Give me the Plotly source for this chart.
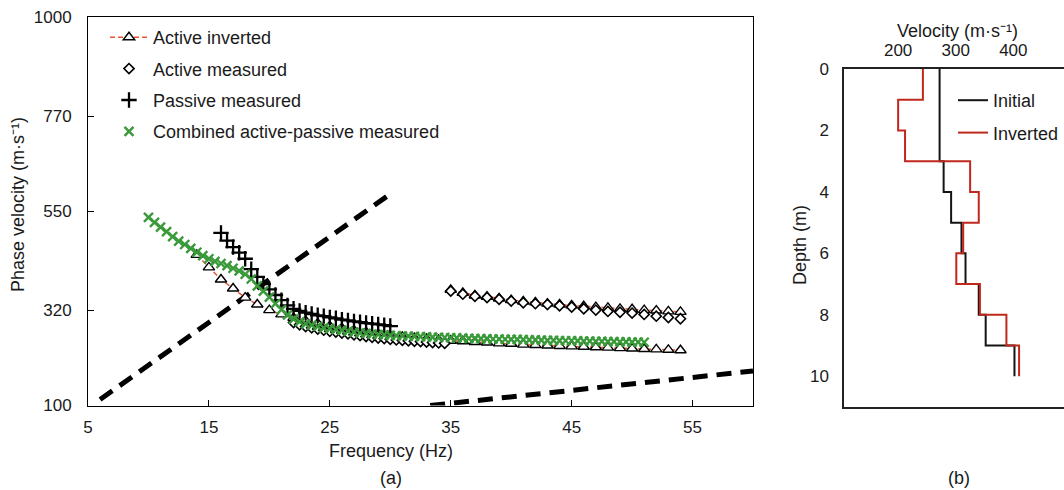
import plotly.graph_objects as go

W, H = 1064, 490
FONT = "Liberation Sans, Arial, sans-serif"
TXT = "#1a1a1a"

# ---------------- panel (a): dispersion curves ----------------
# Active inverted (fundamental mode, then higher mode, separated by None)
inv_freq = [14, 15, 16, 17, 18, 19, 20, 21, 22, 23, 24, 25, 26, 27, 28, 29, 30, 31, 32, 33,
            34, 35, 36, 37, 38, 39, 40, 41, 42, 43, 44, 45, 46, 47, 48, 49, 50, 51, 52, 53, 54,
            None,
            35, 36, 37, 38, 39, 40, 41, 42, 43, 44, 45, 46, 47, 48, 49, 50, 51, 52, 53, 54]
inv_vel = [449, 420, 392, 371, 350, 334, 321, 311, 303, 296, 290, 284, 279, 274, 270, 266, 262, 259, 256, 254,
           252, 250, 249, 247, 246, 244, 243, 241, 240, 239, 238, 237, 236, 235, 234, 233, 232, 231, 230, 229, 228,
           None,
           368, 361, 355, 352, 348, 344, 341, 339, 336, 334, 332, 330, 328, 326, 324, 323, 321, 320, 318, 317]

# Active measured
act_freq = [22, 22.5, 23, 23.5, 24, 24.5, 25, 25.5, 26, 26.5, 27, 27.5, 28, 28.5, 29, 29.5, 30, 30.5,
            31, 31.5, 32, 32.5, 33, 33.5, 34, 34.5,
            35, 36, 37, 38, 39, 40, 41, 42, 43, 44, 45, 46, 47, 48, 49, 50, 51, 52, 53, 54]
act_vel = [292, 287, 283, 280, 277, 274.5, 272, 270, 268, 266, 264, 262, 260, 258, 256.5, 255, 253.5, 252,
           251, 250, 249, 248, 247, 246, 245, 244,
           365, 358, 353, 350, 346, 342, 338, 336, 334, 331, 328, 324, 321, 318, 316, 314, 311, 307, 304, 301]

# Passive measured
pas_freq = [16, 16.5, 17, 17.5, 18, 18.5, 19, 19.5, 20, 20.5, 21, 21.5, 22, 22.5, 23, 23.5, 24, 24.5,
            25, 25.5, 26, 26.5, 27, 27.5, 28, 28.5, 29, 29.5, 30]
pas_vel = [500, 482, 467, 454, 440, 416, 398, 381, 369, 356, 344, 332, 324, 319, 315, 312, 309, 307,
           304, 302, 299, 297, 295, 293, 291, 289.5, 288, 286, 284]

# Combined active-passive measured
com_freq = [10, 10.5, 11, 11.5, 12, 12.5, 13, 13.5, 14, 14.5, 15, 15.5, 16, 16.5, 17, 17.5, 18, 18.5,
            19, 19.5, 20, 20.5, 21, 21.5, 22, 22.5, 23, 23.5, 24, 24.5, 25, 25.5, 26, 26.5, 27, 27.5,
            28, 28.5, 29, 29.5, 30, 30.5, 31, 31.5, 32, 32.5, 33, 33.5, 34, 34.5, 35, 35.5, 36, 36.5,
            37, 37.5, 38, 38.5, 39, 39.5, 40, 40.5, 41, 41.5, 42, 42.5, 43, 43.5, 44, 44.5, 45, 45.5,
            46, 46.5, 47, 47.5, 48, 48.5, 49, 49.5, 50, 50.5, 51]
com_vel = [536, 524, 513, 503, 491, 481, 473, 464, 455, 447, 440, 434, 429, 424, 418, 412, 404, 393,
           377, 365, 351, 336, 322, 310, 300, 294, 289, 286, 283, 280, 278, 276, 274, 272, 270, 268,
           267, 265.5, 264.5, 263.5, 262.5, 262, 261, 260.5, 260, 259.5, 259, 258.5, 258, 257.5, 257, 256.5,
           256, 255.5, 255, 255, 254.5, 254, 254, 253.5, 253, 253, 252.5, 252, 252, 251.5, 251, 251,
           250.5, 250, 250, 249.5, 249, 249, 248.5, 248.5, 248, 248, 247.5, 247.5, 247, 247, 246.5]

# Wavelength limit lines (end points)
lim1_freq = [6.0, 30.1]
lim1_vel = [114, 592]
lim2_freq = [33.3, 60]
lim2_vel = [100, 180]

x_ticks_a = [5, 15, 25, 35, 45, 55]
y_ticks_a = [100, 320, 550, 770, 1000]

# ---------------- panel (b): velocity profiles ----------------
init_depth = [0, 3, 4, 5, 6, 7, 8, 9, 10]
init_vel = [272, 279, 292, 310, 317, 340, 352, 402, 402]
invp_depth = [0, 1, 2, 3, 4, 5, 6, 7, 8, 9, 10]
invp_vel = [243, 200, 212, 325, 340, 313, 301, 342, 388, 410, 410]

x_ticks_b = [200, 300, 400]
y_ticks_b = [0, 2, 4, 6, 8, 10]

fig = go.Figure()

# limit lines (no legend)
for fx, vy in ((lim1_freq, lim1_vel), (lim2_freq, lim2_vel)):
    fig.add_trace(go.Scatter(x=fx, y=vy, mode="lines", showlegend=False, hoverinfo="skip",
                             line=dict(color="black", width=5, dash="15px,9px"),
                             xaxis="x", yaxis="y"))

fig.add_trace(go.Scatter(
    x=inv_freq, y=inv_vel, name="Active inverted", mode="lines+markers", legendgroup="g1",
    line=dict(color="#e8552f", width=1.5, dash="5px,3px"),
    marker=dict(symbol="triangle-up", size=10, color="white", line=dict(color="black", width=1.4)),
    connectgaps=False, xaxis="x", yaxis="y"))
fig.add_trace(go.Scatter(
    x=act_freq, y=act_vel, name="Active measured", mode="markers", legendgroup="g2",
    marker=dict(symbol="diamond", size=7.8, color="white", line=dict(color="black", width=1.6)),
    xaxis="x", yaxis="y"))
fig.add_trace(go.Scatter(
    x=pas_freq, y=pas_vel, name="Passive measured", mode="markers", legendgroup="g3",
    marker=dict(symbol="cross-thin", size=11, color="black", line=dict(color="black", width=2.3)),
    xaxis="x", yaxis="y"))
fig.add_trace(go.Scatter(
    x=com_freq, y=com_vel, name="Combined active-passive measured", mode="markers", legendgroup="g4",
    marker=dict(symbol="x-thin", size=9, color="#3a9a3a", line=dict(color="#3a9a3a", width=2.4)),
    xaxis="x", yaxis="y"))

fig.add_trace(go.Scatter(
    x=init_vel, y=init_depth, name="Initial", mode="lines", line_shape="vh", legendgroup="b1",
    line=dict(color="#141414", width=2), xaxis="x2", yaxis="y2", legend="legend2"))
fig.add_trace(go.Scatter(
    x=invp_vel, y=invp_depth, name="Inverted", mode="lines", line_shape="vh", legendgroup="b2",
    line=dict(color="#c0281d", width=2), xaxis="x2", yaxis="y2", legend="legend2"))

tickfont = dict(family=FONT, size=17, color=TXT)


def ann(text, x, y, angle=0):
    return dict(text=text, x=x / W, y=1 - y / H, xref="paper", yref="paper",
                xanchor="center", yanchor="middle", showarrow=False, textangle=angle,
                font=dict(family=FONT, size=18, color=TXT))


fig.update_layout(
    width=W, height=H, autosize=False,
    margin=dict(l=0, r=0, t=0, b=0, pad=0, autoexpand=False),
    paper_bgcolor="white", plot_bgcolor="white",
    font=dict(family=FONT, size=18, color=TXT),
    xaxis=dict(domain=[88 / W, 753 / W], range=[5, 60], tickvals=x_ticks_a,
               ticks="inside", ticklen=6, tickcolor="black", showline=True, mirror=True,
               linecolor="black", linewidth=1, showgrid=False, zeroline=False, automargin=False,
               tickfont=tickfont, ticklabelstandoff=6, anchor="y"),
    yaxis=dict(domain=[1 - 405.5 / H, 1 - 17 / H], range=[100, 1000], tickvals=y_ticks_a,
               ticks="inside", ticklen=6, tickcolor="black", showline=True, mirror=True,
               linecolor="black", linewidth=1, showgrid=False, zeroline=False, automargin=False,
               tickfont=tickfont, ticklabelstandoff=12, anchor="x"),
    xaxis2=dict(domain=[844 / W, 1.0], range=[106, 488], tickvals=x_ticks_b, side="top",
                ticks="", showline=True, mirror=True, linecolor="#222", linewidth=1.5,
                showgrid=False, zeroline=False, automargin=False,
                tickfont=tickfont, ticklabelstandoff=4, anchor="y2"),
    yaxis2=dict(domain=[1 - 407 / H, 1 - 69 / H], range=[11, 0], tickvals=y_ticks_b,
                ticks="", showline=True, mirror=False, linecolor="#222", linewidth=1.5,
                showgrid=False, zeroline=False, automargin=False,
                tickfont=tickfont, ticklabelstandoff=10, anchor="x2"),
    legend=dict(x=105 / W, y=1 - 19 / H, xanchor="left", yanchor="top", bgcolor="rgba(0,0,0,0)",
                font=dict(family=FONT, size=18, color=TXT), itemwidth=38,
                traceorder="grouped", tracegroupgap=5),
    legend2=dict(x=1.0, y=1 - 82 / H, xanchor="right", yanchor="top", bgcolor="rgba(0,0,0,0)",
                 font=dict(family=FONT, size=18, color=TXT), itemwidth=30,
                 traceorder="grouped", tracegroupgap=6),
    annotations=[
        ann("Frequency (Hz)", 391, 451),
        ann("Phase velocity (m·s⁻¹)", 18, 205, -90),
        ann("(a)", 391, 478),
        ann("Velocity (m·s⁻¹)", 957, 31),
        ann("Depth (m)", 800, 245, -90),
        ann("(b)", 959, 478),
    ],
)

fig.write_html("out.html")
